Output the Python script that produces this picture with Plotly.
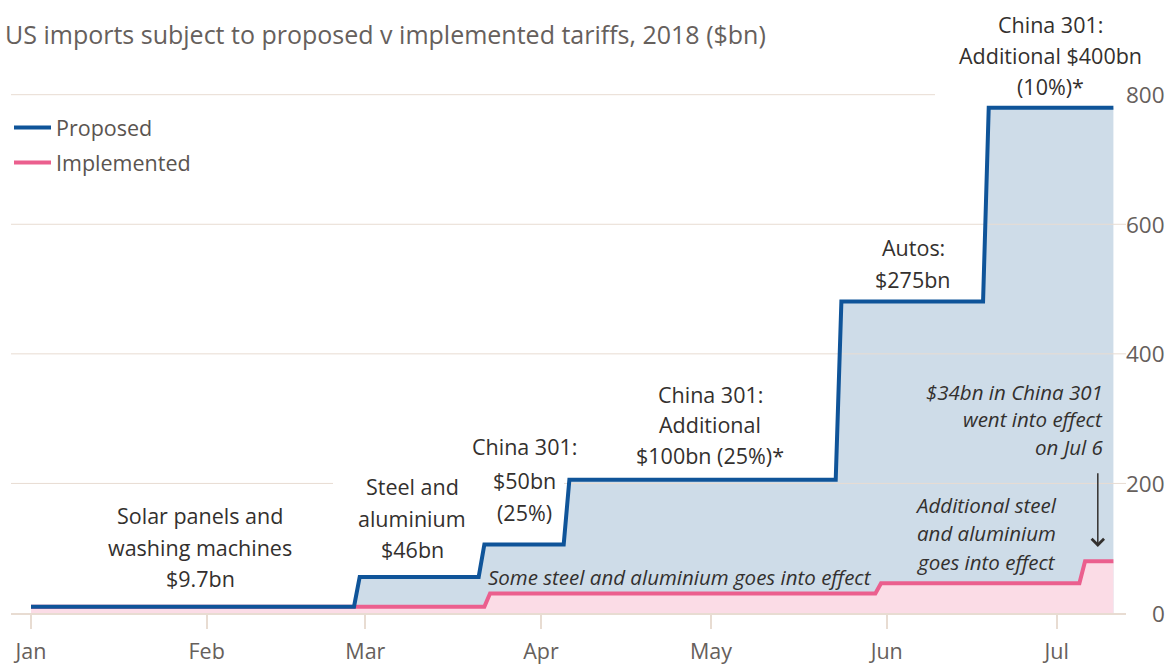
import pandas as pd
import plotly.graph_objects as go

# ---------------- data ----------------
proposed_dates = ["2018-01-01", "2018-02-28", "2018-03-22", "2018-04-06", "2018-05-24", "2018-06-19"]
proposed_values = [9.7, 55.7, 105.7, 205.7, 480.7, 780]
implemented_dates = ["2018-01-01", "2018-03-23", "2018-05-31", "2018-07-06"]
implemented_values = [9.7, 30, 46, 80]
data_start = "2018-01-01"
data_end = "2018-07-11"
month_ticks = ["2018-01-01", "2018-02-01", "2018-03-01", "2018-04-01", "2018-05-01", "2018-06-01", "2018-07-01"]
month_labels = ["Jan", "Feb", "Mar", "Apr", "May", "Jun", "Jul"]
y_ticks = [0, 200, 400, 600, 800]
y_labels = ["0", "200", "400", "600", "800"]
grid_values = [200, 400, 600, 800]

# ---------------- styles ----------------
W, H = 1173, 665
L, R, T, B = 11, 47, 10, 52
PLOT_W, PLOT_H = W - L - R, H - T - B
FONT = "Open Sans"
BLUE = "#0f5499"
BLUE_FILL = "#cedce8"
PINK = "#eb5f8e"
PINK_FILL = "#fbdce6"
GRID = "#e8dcd2"
TXT = "#33302e"
GREY = "#66605c"

days = pd.date_range(data_start, data_end, freq="D")
prop = pd.Series(proposed_values, index=pd.to_datetime(proposed_dates)).reindex(days).ffill()
impl = pd.Series(implemented_values, index=pd.to_datetime(implemented_dates)).reindex(days).ffill()

# axis ranges (pixel calibration)
x0 = pd.Timestamp("2018-01-01")
px_per_day = 5.667
jan_px = 31
xr0 = x0 + pd.Timedelta(days=(L - jan_px) / px_per_day)
xr1 = x0 + pd.Timedelta(days=(L + PLOT_W - jan_px) / px_per_day)
zero_px, top_px = 613, 94.7
ymax = (zero_px - T) * 800 / (zero_px - top_px)


def pxx(x):
    return (x - L) / PLOT_W


def pxy(y):
    return (H - B - y) / PLOT_H


fig = go.Figure()
fig.add_trace(go.Scatter(x=days, y=prop, mode="lines", line=dict(width=0, color=BLUE),
                         fill="tozeroy", fillcolor=BLUE_FILL, showlegend=False, hoverinfo="skip"))
fig.add_trace(go.Scatter(x=days, y=impl, mode="lines", line=dict(width=0, color=PINK),
                         fill="tozeroy", fillcolor=PINK_FILL, showlegend=False, hoverinfo="skip"))
for g in grid_values:
    fig.add_trace(go.Scatter(x=[xr0, xr1], y=[g, g], mode="lines", line=dict(width=1, color=GRID),
                             showlegend=False, hoverinfo="skip"))
fig.add_trace(go.Scatter(x=days, y=impl, mode="lines", name="Implemented",
                         line=dict(width=4, color=PINK), legendgroup="b", legendrank=2))
fig.add_trace(go.Scatter(x=days, y=prop, mode="lines", name="Proposed",
                         line=dict(width=4, color=BLUE), legendgroup="a", legendrank=1))

# white patches hiding gridlines behind labels
fig.add_shape(type="rect", xref="paper", yref="paper", x0=pxx(333), x1=pxx(564), y0=pxy(489), y1=pxy(478),
              fillcolor="white", line_width=0, layer="above")
fig.add_shape(type="rect", xref="paper", yref="paper", x0=pxx(935), x1=pxx(1140), y0=pxy(100), y1=pxy(89),
              fillcolor="white", line_width=0, layer="above")

ann = []


def label(text, x, y, size=21.5, color=TXT, italic=False, xanchor="center"):
    if italic:
        text = "<i>" + text + "</i>"
    ann.append(dict(text=text, x=pxx(x), y=pxy(y), xref="paper", yref="paper", showarrow=False,
                    xanchor=xanchor, yanchor="middle", font=dict(family=FONT, size=size, color=color)))


for t, yy in zip(["Solar panels and", "washing machines", "$9.7bn"], [515, 547, 578]):
    label(t, 200, yy)
for t, yy in zip(["Steel and", "aluminium", "$46bn"], [486, 518, 549]):
    label(t, 412, yy)
for t, yy in zip(["China 301:", "$50bn", "(25%)"], [447, 480, 512]):
    label(t, 524, yy)
for t, yy in zip(["China 301:", "Additional", "$100bn (25%)*"], [394, 424, 455]):
    label(t, 710, yy)
for t, yy in zip(["Autos:", "$275bn"], [247, 279]):
    label(t, 913, yy)
for t, yy in zip(["China 301:", "Additional $400bn", "(10%)*"], [24, 56, 87]):
    label(t, 1050, yy)
label("Some steel and aluminium goes into effect", 680, 577, size=20.5, italic=True)
for t, yy in zip(["$34bn in China 301", "went into effect", "on Jul 6"], [392, 419, 447]):
    label(t, 1105, yy, size=20.5, italic=True, xanchor="right")
for t, yy in zip(["Additional steel", "and aluminium", "goes into effect"], [505, 533, 562]):
    label(t, 986, yy, size=20.5, italic=True)
# y tick labels (right aligned)
for v, t in zip(y_ticks, y_labels):
    ann.append(dict(text=t, x=pxx(1167), y=v, xref="paper", yref="y", showarrow=False,
                    xanchor="right", yanchor="middle", font=dict(family=FONT, size=22.5, color=GREY)))
# arrow
ann.append(dict(x=pd.Timestamp("2018-07-08 06:00"), y=102, ax=pd.Timestamp("2018-07-08 06:00"), ay=218,
                xref="x", yref="y", axref="x", ayref="y", showarrow=True, text="",
                arrowhead=4, arrowsize=1.6, arrowwidth=1.5, arrowcolor=TXT))

fig.update_layout(
    width=W, height=H,
    margin=dict(l=L, r=R, t=T, b=B, autoexpand=False),
    paper_bgcolor="white", plot_bgcolor="white",
    title=dict(text="US imports subject to proposed v implemented tariffs, 2018 ($bn)",
               x=5 / W, xanchor="left", xref="container", y=1 - 35 / H, yanchor="middle", yref="container",
               font=dict(family=FONT, size=25, color=GREY)),
    legend=dict(x=pxx(9), y=pxy(107), xanchor="left", yanchor="top", bgcolor="rgba(0,0,0,0)",
                font=dict(family=FONT, size=21.5, color="#5a5450"), tracegroupgap=4, itemwidth=37,
                traceorder="grouped"),
    annotations=ann,
    xaxis=dict(type="date", range=[xr0, xr1], tickvals=month_ticks, ticktext=month_labels,
               automargin=False,
               showgrid=False, zeroline=False, showline=True, linecolor=GRID, linewidth=2,
               ticks="outside", ticklen=14, tickwidth=2, tickcolor=GRID, ticklabelstandoff=4,
               tickfont=dict(family=FONT, size=21.5, color=GREY)),
    yaxis=dict(range=[0, ymax], automargin=False, showgrid=False, zeroline=False,
               showticklabels=False, showline=False),
    showlegend=True,
)

fig.write_html("out.html", config={"displayModeBar": False},
               post_script="document.body.style.margin='0';document.body.style.overflow='hidden';")
